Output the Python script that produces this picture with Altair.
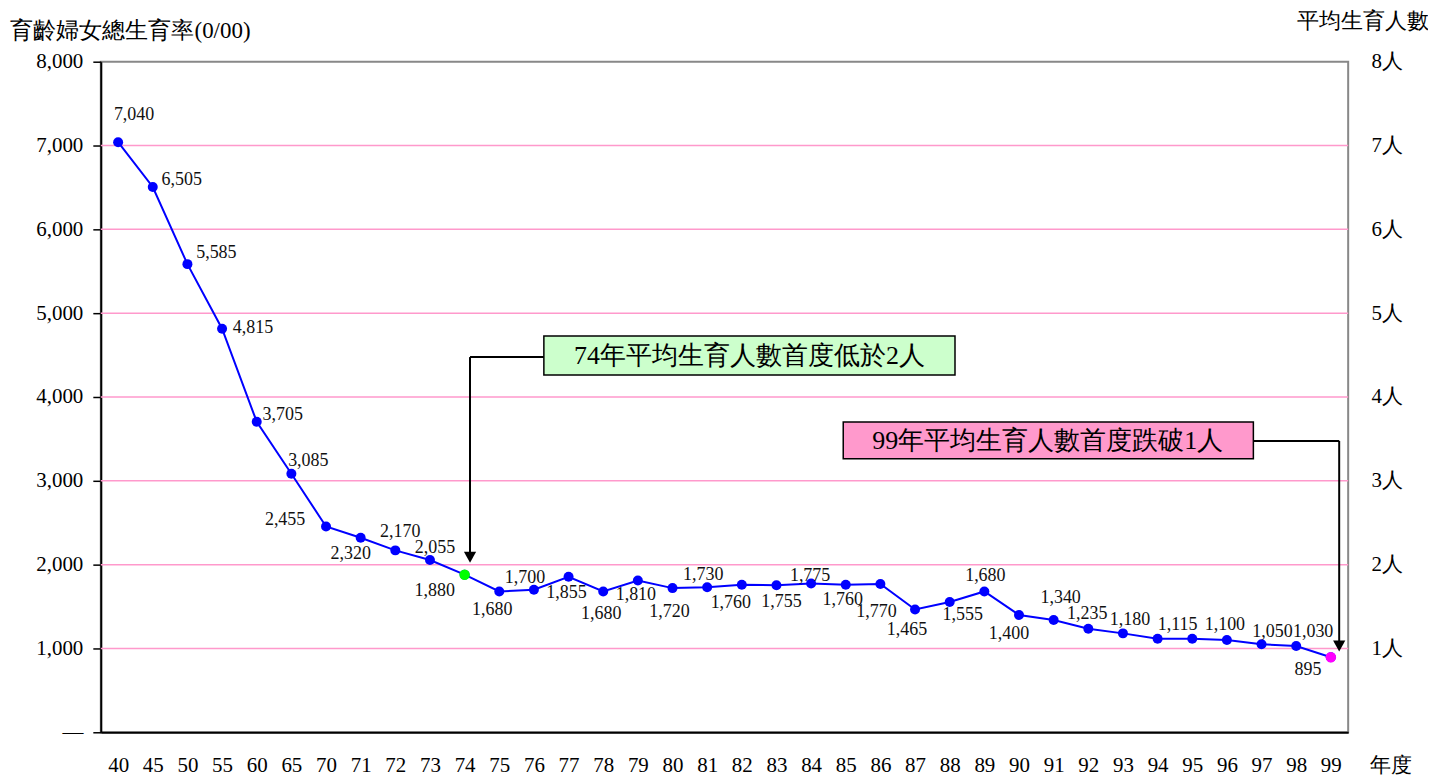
import altair as alt
import pandas as pd

# ---- data ----
YEARS = ["40", "45", "50", "55", "60", "65", "70", "71", "72", "73", "74", "75",
         "76", "77", "78", "79", "80", "81", "82", "83", "84", "85", "86", "87",
         "88", "89", "90", "91", "92", "93", "94", "95", "96", "97", "98", "99"]
TFR = [7040, 6505, 5585, 4815, 3705, 3085, 2455, 2320, 2170, 2055, 1880, 1680,
       1700, 1855, 1680, 1810, 1720, 1730, 1760, 1755, 1775, 1760, 1770, 1465,
       1555, 1680, 1400, 1340, 1235, 1180, 1115, 1115, 1100, 1050, 1030, 895]
Y_TICKS = [0, 1000, 2000, 3000, 4000, 5000, 6000, 7000, 8000]
GRID_TICKS = [1000, 2000, 3000, 4000, 5000, 6000, 7000]
HIGHLIGHT_YEARS = ["74", "99"]
NOTE_1 = "74年平均生育人數首度低於2人"
NOTE_2 = "99年平均生育人數首度跌破1人"
LEFT_TITLE = "育齡婦女總生育率(0/00)"
RIGHT_TITLE = "平均生育人數"
X_TITLE = "年度"

# ---- styling (label offsets in px relative to each point) ----
LABEL_OFFSETS = {
    "40": (16, -27), "45": (29, -7), "50": (29, -11), "55": (31, -1),
    "60": (26, -7), "65": (17, -13), "70": (-41, -6), "71": (-10, 16),
    "72": (5, -18), "73": (5, -12), "74": (-30, 16), "75": (-7, 19),
    "76": (-9, -12), "77": (-2, 16), "78": (-2, 23), "79": (-2, 14),
    "80": (-3, 24), "81": (-4, -12), "82": (-11, 18), "83": (5, 17),
    "84": (-1, -7), "85": (-3, 15), "86": (-4, 28), "87": (-8, 21),
    "88": (13, 13), "89": (1, -15), "90": (-10, 19), "91": (7, -22),
    "92": (-1, -15), "93": (7, -13), "94": (20, -14), "96": (-2, -15),
    "97": (11, -12), "98": (17, -14), "99": (-23, 13),
}
HIGHLIGHT_COLORS = {"74": "#00ff00", "99": "#ff00ff"}
SERIF = "Liberation Serif"
PINK = "#ff99cc"

df = pd.DataFrame({"year": YEARS, "tfr": TFR})

X = alt.X(
    "year:O",
    sort=YEARS,
    scale=alt.Scale(type="point", padding=0.5),
    axis=alt.Axis(
        title=X_TITLE, labelAngle=0, ticks=False, tickSize=0, grid=False,
        labelFont=SERIF, labelFontSize=21, labelPadding=22, labelColor="#000",
        domainColor="#000", domainWidth=2,
        titleX=1292, titleY=33, titleAlign="center", titleBaseline="middle",
        titleFont=SERIF, titleFontSize=21, titleFontWeight="normal", titleColor="#000",
    ),
)
YSCALE = alt.Scale(domain=[0, 8000], nice=False)

left_axis = alt.Axis(
    values=Y_TICKS,
    labelExpr="datum.value === 0 ? '—' : format(datum.value, ',')",
    labelFont=SERIF, labelFontSize=21, labelPadding=10, labelColor="#000",
    tickSize=8, tickColor="#000", tickWidth=1.5,
    domainColor="#000", domainWidth=2,
    grid=False,
    title=LEFT_TITLE, titleAngle=0, titleX=-91, titleY=-31,
    titleAlign="left", titleBaseline="middle",
    titleFont=SERIF, titleFontSize=23, titleFontWeight="normal", titleColor="#000",
)
right_axis = alt.Axis(
    orient="right", values=Y_TICKS,
    labelExpr="datum.value === 0 ? '' : (datum.value / 1000) + '人'",
    labelFont=SERIF, labelFontSize=21, labelPadding=23, labelColor="#000",
    ticks=False, domain=False, grid=False,
    title=RIGHT_TITLE, titleAngle=0, titleX=81, titleY=-41,
    titleAlign="right", titleBaseline="middle",
    titleFont=SERIF, titleFontSize=22, titleFontWeight="normal", titleColor="#000",
)

base = alt.Chart(df)

# pink gridlines through the shared y scale
grid = alt.Chart(pd.DataFrame({"g": GRID_TICKS})).mark_rule(
    color=PINK, strokeWidth=1.5
).encode(y=alt.Y("g:Q", scale=YSCALE, axis=None))

line = base.mark_line(color="#0000ff", strokeWidth=2).encode(
    x=X, y=alt.Y("tfr:Q", scale=YSCALE, axis=left_axis)
)
points = base.mark_circle(color="#0000ff", opacity=1, size=100).encode(
    x=X, y=alt.Y("tfr:Q", scale=YSCALE, axis=None)
)
layers = [grid, line, points]
for yr in HIGHLIGHT_YEARS:
    layers.append(
        base.transform_filter(alt.datum.year == yr)
        .mark_circle(color=HIGHLIGHT_COLORS[yr], opacity=1, size=110)
        .encode(x=X, y=alt.Y("tfr:Q", scale=YSCALE, axis=None))
    )

for yr, (dx, dy) in LABEL_OFFSETS.items():
    layers.append(
        base.transform_filter(alt.datum.year == yr)
        .mark_text(fontSize=18, dx=dx, dy=dy, align="center", baseline="middle",
                   color="#111", font=SERIF)
        .encode(x=X, y=alt.Y("tfr:Q", scale=YSCALE, axis=None),
                text=alt.Text("tfr:Q", format=","))
    )

right = base.mark_point(opacity=0).encode(
    x=X, y=alt.Y("tfr:Q", scale=YSCALE, axis=right_axis)
)
layers.append(right)

# ---- annotations (decoration, positioned in plot pixels) ----
one = alt.Data(values=[{"k": 1}])
ARROW = "M-1,-0.8L1,-0.8L0,1Z"


def note(x1, x2, y1, y2, fill, text, tx, ty):
    box = alt.Chart(one).mark_rect(fill=fill, stroke="#000", strokeWidth=1.5).encode(
        x=alt.value(x1), x2=alt.value(x2), y=alt.value(y1), y2=alt.value(y2))
    lab = alt.Chart(one).mark_text(fontSize=26, font=SERIF, color="#000",
                                   align="center", baseline="middle").encode(
        x=alt.value(tx), y=alt.value(ty), text=alt.value(text))
    return [box, lab]


def arrow(xa, xb, yh, xv, ytip):
    h = alt.Chart(one).mark_rule(color="#000", strokeWidth=2).encode(
        x=alt.value(xa), x2=alt.value(xb), y=alt.value(yh))
    v = alt.Chart(one).mark_rule(color="#000", strokeWidth=2).encode(
        x=alt.value(xv), y=alt.value(yh), y2=alt.value(ytip - 10))
    head = alt.Chart(one).mark_point(shape=ARROW, filled=True, color="#000",
                                     opacity=1, size=150).encode(
        x=alt.value(xv), y=alt.value(ytip - 6))
    return [h, v, head]


layers += arrow(370, 444, 296, 370, 502)
layers += note(444, 856, 275, 314, "#ccffcc", NOTE_1, 650, 295)
layers += arrow(1155, 1241, 380, 1241, 591)
layers += note(744, 1155, 361, 398, PINK, NOTE_2, 949, 380)

chart = (
    alt.layer(*layers)
    .resolve_axis(y="independent")
    .properties(
        width=1250, height=672,
        autosize=alt.AutoSizeParams(type="none"),
        padding={"left": 93, "top": 53, "right": 80, "bottom": 43},
    )
    .configure(font=SERIF,
               style={"guide-label": {"font": SERIF},
                      "guide-title": {"font": SERIF}})
    .configure_view(stroke="#888888", strokeWidth=2)
    .configure_axis(labelFont=SERIF, titleFont=SERIF)
    .configure_text(font=SERIF)
)

chart.save("out.html", embed_options={"renderer": "svg", "actions": False})
